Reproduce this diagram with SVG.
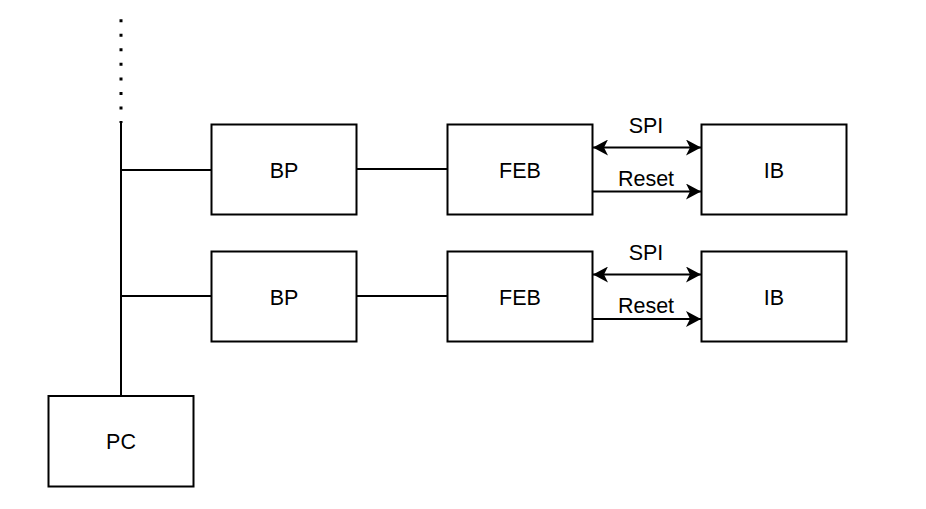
<svg xmlns="http://www.w3.org/2000/svg" width="926" height="509" viewBox="0 0 926 509">
<defs>
<marker id="ah" viewBox="0 0 15 16" refX="15" refY="8" markerWidth="15" markerHeight="16" markerUnits="userSpaceOnUse" orient="auto-start-reverse">
<path d="M0,0 L15,8 L0,16 L4,8 Z" fill="#000"/>
</marker>
<style>
.box{fill:#fff;stroke:#000;stroke-width:2}
.ln{fill:none;stroke:#000;stroke-width:2}
.dots{fill:none;stroke:#000;stroke-width:3;stroke-dasharray:3 11.55}
.t{font-family:"Liberation Sans",Arial,sans-serif;font-size:21.5px;fill:#000;text-anchor:middle}
</style>
</defs>
<rect width="926" height="509" fill="#fff"/>
<g id="connectors">
<line class="dots" x1="121" y1="19.2" x2="121" y2="123"/>
<line class="ln" x1="121" y1="123" x2="121" y2="396"/>
<line class="ln" x1="121" y1="170" x2="211" y2="170"/>
<line class="ln" x1="121" y1="296" x2="211" y2="296"/>
<line class="ln" x1="357" y1="169" x2="447" y2="169"/>
<line class="ln" x1="357" y1="296" x2="447" y2="296"/>
<line class="ln" x1="593" y1="147.5" x2="701" y2="147.5" marker-start="url(#ah)" marker-end="url(#ah)"/>
<line class="ln" x1="593" y1="191.5" x2="701" y2="191.5" marker-end="url(#ah)"/>
<line class="ln" x1="593" y1="274.5" x2="701" y2="274.5" marker-start="url(#ah)" marker-end="url(#ah)"/>
<line class="ln" x1="593" y1="319" x2="701" y2="319" marker-end="url(#ah)"/>
<text class="t" x="646" y="133">SPI</text>
<text class="t" x="646" y="186">Reset</text>
<text class="t" x="646" y="259.5">SPI</text>
<text class="t" x="646" y="312.5">Reset</text>
</g>
<g id="bp1"><rect class="box" x="211.5" y="124.5" width="145" height="90"/><text class="t" x="284" y="178">BP</text></g>
<g id="feb1"><rect class="box" x="447.5" y="124.5" width="145" height="90"/><text class="t" x="520" y="178">FEB</text></g>
<g id="ib1"><rect class="box" x="701.5" y="124.5" width="145" height="90"/><text class="t" x="774" y="178">IB</text></g>
<g id="bp2"><rect class="box" x="211.5" y="251.5" width="145" height="90"/><text class="t" x="284" y="305">BP</text></g>
<g id="feb2"><rect class="box" x="447.5" y="251.5" width="145" height="90"/><text class="t" x="520" y="305">FEB</text></g>
<g id="ib2"><rect class="box" x="701.5" y="251.5" width="145" height="90"/><text class="t" x="774" y="305">IB</text></g>
<g id="pc"><rect class="box" x="48.5" y="396" width="145" height="90.5"/><text class="t" x="121" y="449">PC</text></g>
</svg>
